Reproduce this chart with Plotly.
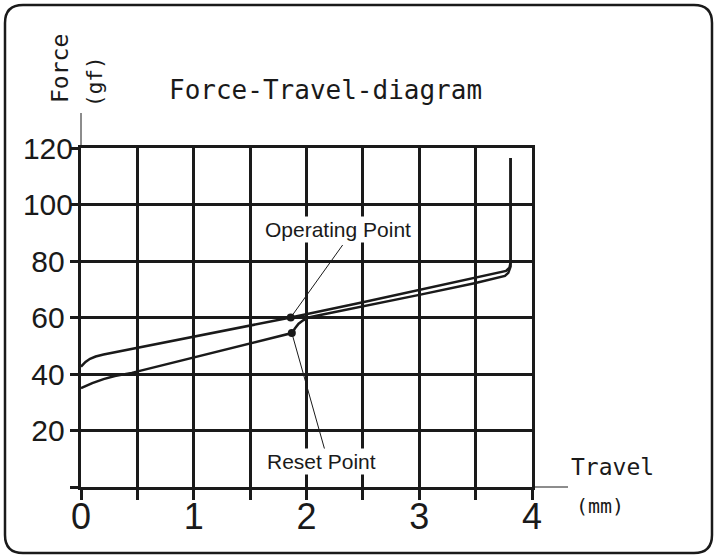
import plotly.graph_objects as go

# press curve (upper) and release curve (lower), travel in mm / force in gf
press_travel = [0, 0.04, 0.08, 0.13, 0.2, 0.5, 1.0, 1.5, 1.86, 2.5, 3.0, 3.5, 3.72, 3.77, 3.80, 3.81, 3.81]
press_force = [42.6, 44.3, 45.4, 46.2, 46.9, 49.3, 53.2, 57.1, 60.0, 65.4, 69.7, 74.0, 75.9, 76.5, 77.6, 79.5, 116.5]

release_travel = [0, 0.1, 0.2, 0.3, 0.45, 1.0, 1.5, 1.87, 1.90, 1.93, 1.97, 2.02, 2.1, 2.5, 3.0, 3.5, 3.70, 3.76, 3.79, 3.81, 3.81]
release_force = [35.0, 36.8, 38.2, 39.3, 40.4, 45.8, 50.8, 54.5, 56.3, 57.8, 59.0, 60.0, 60.7, 63.9, 68.0, 72.2, 74.0, 74.7, 75.8, 78.0, 116.5]

point_names = ["Operating Point", "Reset Point"]
point_travel = [1.86, 1.87]
point_force = [60.0, 54.5]

y_ticks = [0, 20, 40, 60, 80, 100, 120]

INK = "#1a1a1a"
W, H = 720, 559
L, R, T, B = 81, 188, 148, 72


def paper(px, py):
    # pixel position on the page -> paper coordinates
    return (px - L) / (W - L - R), (H - B - py) / (H - T - B)


def rounded_box(x0, y0, x1, y1, r):
    pts = [
        ("M", x0 + r, y0), ("L", x1 - r, y0), ("Q", x1, y0, x1, y0 + r),
        ("L", x1, y1 - r), ("Q", x1, y1, x1 - r, y1),
        ("L", x0 + r, y1), ("Q", x0, y1, x0, y1 - r),
        ("L", x0, y0 + r), ("Q", x0, y0, x0 + r, y0),
    ]
    out = []
    for p in pts:
        cmd, vals = p[0], p[1:]
        coords = []
        for i in range(0, len(vals), 2):
            a, b = paper(vals[i], vals[i + 1])
            coords.append(f"{a:.5f},{b:.5f}")
        out.append(cmd + " ".join(coords))
    return " ".join(out) + " Z"


fig = go.Figure()
fig.add_trace(go.Scatter(x=press_travel, y=press_force, mode="lines",
                         line=dict(color=INK, width=2.5), name="Press"))
fig.add_trace(go.Scatter(x=release_travel, y=release_force, mode="lines",
                         line=dict(color=INK, width=2.5), name="Release"))
fig.add_trace(go.Scatter(x=point_travel, y=point_force, mode="markers",
                         marker=dict(color=INK, size=8), text=point_names,
                         cliponaxis=False))

mono = "DejaVu Sans Mono"
sans = "Liberation Sans, Arial"

fig.update_layout(
    width=W, height=H, autosize=False,
    margin=dict(l=L, r=R, t=T, b=B),
    paper_bgcolor="white", plot_bgcolor="white",
    showlegend=False,
    xaxis=dict(
        range=[0, 4], tick0=0, dtick=1,
        showgrid=True, gridcolor=INK, gridwidth=3,
        showline=True, linecolor=INK, linewidth=3, mirror=True,
        zeroline=False,
        ticks="outside", ticklen=10, tickwidth=3, tickcolor=INK,
        ticklabelstandoff=-14,
        tickfont=dict(family=sans, size=36, color=INK),
        minor=dict(dtick=0.5, showgrid=True, gridcolor=INK, gridwidth=3,
                   ticks="outside", ticklen=10, tickwidth=3, tickcolor=INK),
    ),
    yaxis=dict(
        range=[0, 120],
        tickmode="array", tickvals=y_ticks,
        ticktext=["" if v == 0 else (f"{v}\u00a0" if v < 100 else str(v)) for v in y_ticks],
        showgrid=True, gridcolor=INK, gridwidth=3,
        showline=True, linecolor=INK, linewidth=3, mirror=True,
        zeroline=False,
        ticks="outside", ticklen=8, tickwidth=3, tickcolor=INK,
        ticklabelstandoff=-9,
        tickfont=dict(family=sans, size=30, color=INK),
    ),
)

# thin axis extensions and the rounded frame
ex, ey = paper(568, 0)
_, top = paper(0, 113)
fig.add_shape(type="line", xref="paper", yref="paper", x0=1, y0=0, x1=ex, y1=0,
              line=dict(color=INK, width=1))
fig.add_shape(type="line", xref="paper", yref="paper", x0=0, y0=1, x1=0, y1=top,
              line=dict(color=INK, width=1))
fig.add_shape(type="path", xref="paper", yref="paper",
              path=rounded_box(5, 5, 712, 553, 18),
              line=dict(color=INK, width=2.5))


def label(text, px, py, size, family=mono, angle=0, bg=None):
    x, y = paper(px, py)
    fig.add_annotation(text=text, xref="paper", yref="paper", x=x, y=y,
                       xanchor="center", yanchor="middle", showarrow=False,
                       textangle=angle, bgcolor=bg, borderpad=1,
                       font=dict(family=family, size=size, color=INK))


label("Force-Travel-diagram", 325, 90, 26)
label("Force", 60, 69, 23, angle=-90)
label("(gf)", 95, 82, 21, angle=-90)
label("Travel", 612, 467, 23)
label("(mm)", 600, 506, 20)
label(point_names[0], 337.5, 229, 21, family=sans, bg="white")
label(point_names[1], 321.5, 461, 21, family=sans, bg="white")

# leader lines from the points to their labels
for i, (ax, ay) in enumerate([(53, -74), (33, 117)]):
    fig.add_annotation(x=point_travel[i], y=point_force[i], text="",
                       showarrow=True, arrowhead=0, arrowwidth=1, arrowcolor=INK,
                       ax=ax, ay=ay, standoff=0, startstandoff=0)

fig.write_html("out.html", config={"displayModeBar": False},
               post_script="document.body.style.margin='0';")
